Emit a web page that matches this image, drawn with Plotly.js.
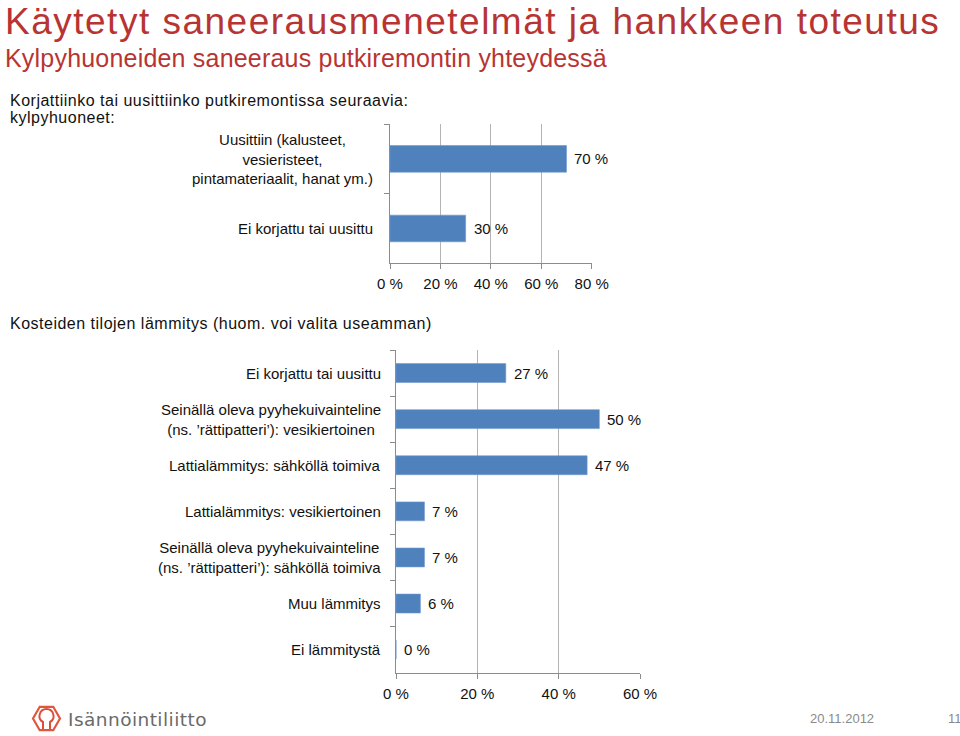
<!DOCTYPE html>
<html>
<head>
<meta charset="utf-8">
<script src="https://cdn.plot.ly/plotly-3.0.1.min.js"></script>
<style>
html,body{margin:0;padding:0;background:#fff;}
#chart{width:960px;height:736px;}
</style>
</head>
<body>
<div id="chart"></div>
<script>
// ---- data ----
const cat1 = [
  'Uusittiin (kalusteet,<br>vesieristeet,<br>pintamateriaalit, hanat ym.)',
  'Ei korjattu tai uusittu'
];
const val1 = [70, 30];

const cat2 = [
  'Ei korjattu tai uusittu',
  'Seinällä oleva pyyhekuivainteline<br>(ns. ’rättipatteri’): vesikiertoinen',
  'Lattialämmitys: sähköllä toimiva',
  'Lattialämmitys: vesikiertoinen',
  'Seinällä oleva pyyhekuivainteline<br>(ns. ’rättipatteri’): sähköllä toimiva',
  'Muu lämmitys',
  'Ei lämmitystä'
];
const val2 = [27, 50, 47, 7, 7, 6, 0];

const ticks1 = [0, 20, 40, 60, 80];
const tickText1 = ['0 %', '20 %', '40 %', '60 %', '80 %'];
const ticks2 = [0, 20, 40, 60];
const tickText2 = ['0 %', '20 %', '40 %', '60 %'];

const titleText = 'Käytetyt saneerausmenetelmät ja hankkeen toteutus';
const subtitleText = 'Kylpyhuoneiden saneeraus putkiremontin yhteydessä';
const q1Line1 = 'Korjattiinko tai uusittiinko putkiremontissa seuraavia:';
const q1Line2 = 'kylpyhuoneet:';
const q2Text = 'Kosteiden tilojen lämmitys (huom. voi valita useamman)';
const logoText = 'Isännöintiliitto';
const dateText = '20.11.2012';
const pageText = '11';

// ---- helpers ----
const W = 960, H = 736;
const px = v => v / W;
const py = v => 1 - v / H;
const spaced = (t, s) => '<span style="letter-spacing:' + s + 'px">' + t + '</span>';

const FONT = 'Liberation Sans, Arial, sans-serif';
const BAR = '#4f81bd';
const GRID = '#b4b4b4';
const AXIS = '#8c8c8c';
const RED = '#b83433';
const INK = '#111111';

const traces = [
  {type:'bar', orientation:'h', x: val1, y: cat1, xaxis:'x', yaxis:'y',
   width: 0.383, marker:{color:BAR, line:{color:'#6f98cc', width:0.6}},
   hoverinfo:'none', showlegend:false},
  {type:'bar', orientation:'h', x: val2, y: cat2, xaxis:'x2', yaxis:'y2',
   width: 0.41, marker:{color:BAR, line:{color:'#6f98cc', width:0.6}},
   hoverinfo:'none', showlegend:false}
];

const xCommon = {
  showgrid:true, gridcolor:GRID, gridwidth:1, zeroline:false,
  showline:true, linecolor:AXIS, linewidth:1,
  ticks:'outside', ticklen:5, tickcolor:AXIS, tickwidth:1,
  ticklabelstandoff:2,
  tickfont:{family:FONT, size:15, color:INK},
  tickmode:'array', fixedrange:true
};
const yCommon = {
  type:'category', autorange:'reversed', showticklabels:false,
  showgrid:false, zeroline:false, showline:true, linecolor:AXIS, linewidth:1,
  ticks:'outside', tickson:'boundaries', ticklen:5, tickcolor:AXIS, tickwidth:1,
  fixedrange:true
};

const annotations = [];
function txt(text, x, y, size, color, family) {
  annotations.push({
    text, x, y, xref:'paper', yref:'paper', showarrow:false,
    xanchor:'left', yanchor:'middle',
    font:{family: family || FONT, size, color}
  });
}
txt(spaced(titleText, 1.5), px(3), py(21.5), 37, RED);
txt(spaced(subtitleText, 0.2), px(3), py(57.5), 25, RED);
txt(spaced(q1Line1, 0.5), px(8), py(100.5), 16, INK);
txt(spaced(q1Line2, 0.5), px(8), py(117.5), 16, INK);
txt(spaced(q2Text, 0.5), px(8), py(323.5), 16, INK);
txt(spaced(logoText, 0.45), px(66), py(719), 18.5, '#6a6a6a', 'DejaVu Sans, Verdana, sans-serif');
txt(dateText, px(808), py(718), 13, '#8a8a8a');
txt(pageText, px(946), py(718), 13, '#8a8a8a');

// category labels (centered lines, block right-aligned)
cat1.forEach(c => annotations.push({
  text:c, x:px(375), y:c, xref:'paper', yref:'y', showarrow:false,
  xanchor:'right', yanchor:'middle', align:'center',
  font:{family:FONT, size:15, color:INK}
}));
cat2.forEach(c => annotations.push({
  text:c, x:px(383), y:c, xref:'paper', yref:'y2', showarrow:false,
  xanchor:'right', yanchor:'middle', align:'center',
  font:{family:FONT, size:15, color:INK}
}));
// value labels
val1.forEach((v, i) => annotations.push({
  text: v + ' %', x:v, y:cat1[i], xref:'x', yref:'y', showarrow:false,
  xanchor:'left', yanchor:'middle', xshift:6,
  font:{family:FONT, size:15, color:INK}
}));
val2.forEach((v, i) => annotations.push({
  text: v + ' %', x:v, y:cat2[i], xref:'x2', yref:'y2', showarrow:false,
  xanchor:'left', yanchor:'middle', xshift:6,
  font:{family:FONT, size:15, color:INK}
}));

// logo icon (decorative)
const cx = 46.5, cy = 718.5, r = 13.5;
let hex = '';
for (let k = 0; k < 6; k++) {
  const a = Math.PI / 3 * k;
  const X = px(cx + r * Math.cos(a)), Y = py(cy + r * Math.sin(a));
  hex += (k === 0 ? 'M' : 'L') + X + ',' + Y + ' ';
}
hex += 'Z';
const shapes = [
  {type:'path', xref:'paper', yref:'paper', path:hex, line:{color:'#e0573c', width:2.2}},
  {type:'path', xref:'paper', yref:'paper',
   path: 'M' + px(43) + ',' + py(729) + ' L' + px(43) + ',' + py(722) +
         ' C' + px(37) + ',' + py(719) + ' ' + px(39) + ',' + py(709) + ' ' + px(46.5) + ',' + py(709) +
         ' C' + px(54) + ',' + py(709) + ' ' + px(56) + ',' + py(719) + ' ' + px(50) + ',' + py(722) +
         ' L' + px(50) + ',' + py(729),
   line:{color:'#d9503a', width:2}}
];

const layout = {
  width: W, height: H,
  margin:{l:0, r:0, t:0, b:0},
  paper_bgcolor:'#fff', plot_bgcolor:'rgba(0,0,0,0)',
  showlegend:false,
  xaxis: Object.assign({}, xCommon, {domain:[px(390), px(591.7)], anchor:'y', range:[0, 80], tickvals:ticks1, ticktext:tickText1}),
  yaxis: Object.assign({}, yCommon, {domain:[py(263.3), py(124)], anchor:'x', categoryarray:cat1}),
  xaxis2: Object.assign({}, xCommon, {domain:[px(396), px(640)], anchor:'y2', range:[0, 60], tickvals:ticks2, ticktext:tickText2}),
  yaxis2: Object.assign({}, yCommon, {domain:[py(672.7), py(350)], anchor:'x2', categoryarray:cat2}),
  annotations, shapes
};

Plotly.newPlot('chart', traces, layout, {displayModeBar:false, staticPlot:true});
</script>
</body>
</html>
